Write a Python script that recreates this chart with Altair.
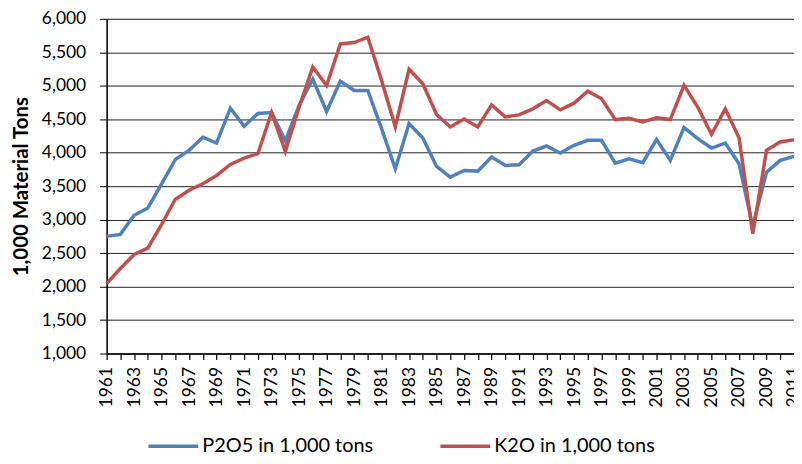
import altair as alt
import pandas as pd

years = list(range(1961, 2012))
p2o5 = [2750, 2780, 3065, 3175, 3535, 3900, 4035, 4230, 4145, 4665,
        4395, 4585, 4600, 4175, 4705, 5100, 4615, 5070, 4930, 4930,
        4360, 3760, 4435, 4220, 3795, 3635, 3735, 3725, 3935, 3810,
        3820, 4025, 4100, 3995, 4110, 4185, 4185, 3845, 3910, 3850,
        4195, 3885, 4375, 4210, 4070, 4145, 3835, 2900, 3710, 3885,
        3945]
k2o = [2045, 2270, 2480, 2575, 2930, 3305, 3440, 3535, 3660, 3825,
       3920, 3985, 4600, 4020, 4680, 5280, 5005, 5625, 5645, 5725,
       5080, 4385, 5245, 5030, 4570, 4385, 4505, 4385, 4715, 4535,
       4565, 4655, 4780, 4640, 4740, 4920, 4805, 4495, 4515, 4460,
       4520, 4495, 5005, 4680, 4275, 4655, 4225, 2790, 4035, 4160,
       4195]
series_names = ["P2O5 in 1,000 tons", "K2O in 1,000 tons"]
colors = ["#4F81BD", "#C0504D"]

rows = []
for y, v in zip(years, p2o5):
    rows.append({"year": y, "value": v, "series": series_names[0]})
for y, v in zip(years, k2o):
    rows.append({"year": y, "value": v, "series": series_names[1]})
df = pd.DataFrame(rows)

FONT = "Lato"

chart = alt.Chart(df).mark_line(strokeWidth=3.5).encode(
    x=alt.X("year:Q",
            scale=alt.Scale(domain=[1961, 2011], nice=False, zero=False),
            axis=alt.Axis(values=years, format="d", title=None,
                          labelAngle=270, labelAlign="right", labelBaseline="middle",
                          labelExpr="(datum.value - 1961) % 2 == 0 ? datum.label : ''",
                          labelFontSize=17.5, labelFont=FONT, labelColor="#000",
                          tickSize=6, tickColor="#000", domainColor="#000",
                          domainWidth=1.5, tickWidth=1.2, labelPadding=7,
                          grid=False, labelOverlap=False, labelFlush=False)),
    y=alt.Y("value:Q",
            scale=alt.Scale(domain=[1000, 6000], nice=False, zero=False),
            axis=alt.Axis(values=list(range(1000, 6001, 500)), format=",d",
                          title="1,000 Material Tons", titleFont=FONT,
                          titleFontSize=20.5, titleFontWeight="bold", titleColor="#000",
                          titlePadding=10,
                          labelFontSize=17.5, labelFont=FONT, labelColor="#000",
                          tickSize=7, tickColor="#000", domainColor="#000",
                          domainWidth=1.5, labelPadding=14,
                          grid=True, gridColor="#222", gridWidth=1)),
    color=alt.Color("series:N",
                    scale=alt.Scale(domain=series_names, range=colors),
                    sort=series_names,
                    legend=alt.Legend(title=None, orient="none", direction="horizontal",
                                      legendX=40, legendY=402,
                                      symbolType="stroke", symbolSize=2500,
                                      symbolStrokeWidth=3.5, columnPadding=60,
                                      labelOffset=2,
                                      labelFontSize=20, labelFont=FONT,
                                      labelColor="#000", labelLimit=300)),
).properties(
    width=690, height=336,
    autosize=alt.AutoSizeParams(type="none"),
    padding={"left": 99, "top": 10, "right": 0, "bottom": 102},
).configure_view(
    stroke="#000", strokeWidth=1.5
).configure(background="white")

chart.save("out.html", embed_options={"renderer": "svg", "actions": False})
